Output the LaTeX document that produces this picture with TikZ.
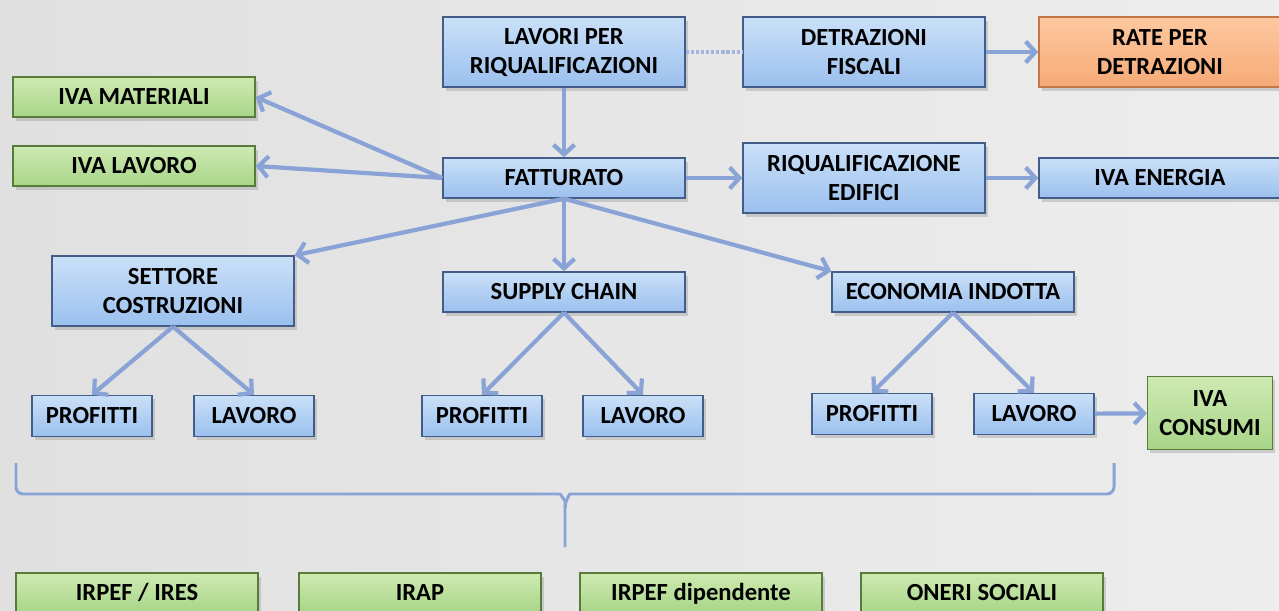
\documentclass[tikz,border=0pt]{standalone}
\usepackage{fontspec}
\setmainfont{Carlito}
\usepackage{tikz}
\usetikzlibrary{shapes.geometric, arrows.meta, shadows, positioning}
\definecolor{dblue}{RGB}{66,94,136}
\definecolor{lblue}{RGB}{202,224,248}
\definecolor{mblue}{RGB}{155,192,238}
\definecolor{dgreen}{RGB}{88,122,58}
\definecolor{lgreen}{RGB}{206,234,178}
\definecolor{mgreen}{RGB}{168,213,136}
\definecolor{dorange}{RGB}{196,118,68}
\definecolor{lorange}{RGB}{253,200,160}
\definecolor{morange}{RGB}{246,170,118}
\definecolor{link}{RGB}{137,163,214}
\definecolor{bgl}{RGB}{224,224,224}
\definecolor{bgr}{RGB}{237,237,237}
\tikzstyle{process} = [rectangle,
minimum width=4.84cm, minimum height=0.8cm,
text centered, align=center, text height=9pt, text depth=0pt,
draw=dblue, line width=0.8pt, top color=lblue, bottom color=mblue,
drop shadow={shadow xshift=1.5pt, shadow yshift=-2pt, opacity=0.3},
font=\fontsize{14}{16.5}\selectfont\bfseries]
\tikzstyle{twoline} = [process, minimum height=1.4cm, text height=, text depth=]
\tikzstyle{smallproc} = [process, minimum width=2.4cm, minimum height=0.82cm]
\tikzstyle{tax} = [process, draw=dgreen, top color=lgreen, bottom color=mgreen]
\tikzstyle{rate} = [twoline, draw=dorange, top color=lorange, bottom color=morange]
\tikzstyle{arrow} = [line width=2.4pt, draw=link, ->, >={Straight Barb[length=5.5pt,width=12pt]}]
\tikzstyle{brace} = [line width=1.7pt, draw=link, rounded corners=4pt]

\begin{document}
\begin{tikzpicture}[x=0.02cm, y=-0.02cm, node distance=6cm]
    \useasboundingbox (0,0) rectangle (1279,611);
    \clip (0,0) rectangle (1279,611);
    \shade[left color=bgl, right color=bgr] (0,0) rectangle (1279,611);

    \node (lav) [twoline] at (564,52) {LAVORI PER\\RIQUALIFICAZIONI};
    \node (detr) [twoline, right of=lav] {DETRAZIONI\\FISCALI};
    \node (rate) [rate, right of=detr, xshift=-0.08cm] {RATE PER\\DETRAZIONI};
    \node (fatt) [process] at (564,178) {FATTURATO};
    \node (riq) [twoline, right of=fatt] {RIQUALIFICAZIONE\\EDIFICI};
    \node (ivaen) [process, right of=riq, xshift=-0.08cm] {IVA ENERGIA};
    \node (ivamat) [tax] at (134,97) {IVA MATERIALI};
    \node (ivalav) [tax] at (134,166) {IVA LAVORO};

    \node (sett) [twoline] at (173,291) {SETTORE\\COSTRUZIONI};
    \node (supply) [process] at (564,292) {SUPPLY CHAIN};
    \node (econ) [process] at (953,292) {ECONOMIA INDOTTA};

    \node (prof1) [smallproc] at (92,416) {PROFITTI};
    \node (lav1) [smallproc] at (254,416) {LAVORO};
    \node (prof2) [smallproc] at (482,416) {PROFITTI};
    \node (lav2) [smallproc] at (643,416) {LAVORO};
    \node (prof3) [smallproc] at (872,414) {PROFITTI};
    \node (lav3) [smallproc] at (1034,414) {LAVORO};
    \node (ivacons) [tax, text height=, text depth=, minimum width=2.5cm, minimum height=1.46cm] at (1210,413) {IVA\\CONSUMI};

    \node (irpef) [tax] at (137,593) {IRPEF / IRES};
    \node (irap) [tax] at (420,593) {IRAP};
    \node (irpefdip) [tax] at (701,593) {IRPEF dipendente};
    \node (oneri) [tax] at (982,593) {ONERI SOCIALI};

    \draw [line width=2.2pt, draw=link!80, dash pattern=on 1.8pt off 1.1pt] (lav) -- (detr);
    \draw [arrow] (detr) -- (rate);
    \draw [arrow] (lav) -- (fatt);
    \draw [arrow] (fatt) -- (riq);
    \draw [arrow] (riq) -- (ivaen);
    \draw [arrow] (fatt.west) -- (ivamat.east);
    \draw [arrow] (fatt.west) -- (ivalav.east);
    \draw [arrow] (fatt.south) -- (sett.north east);
    \draw [arrow] (fatt) -- (supply);
    \draw [arrow] (fatt.south) -- (econ.north west);
    \draw [arrow] (sett.south) -- (prof1.north);
    \draw [arrow] (sett.south) -- (lav1.north);
    \draw [arrow] (supply.south) -- (prof2.north);
    \draw [arrow] (supply.south) -- (lav2.north);
    \draw [arrow] (econ.south) -- (prof3.north);
    \draw [arrow] (econ.south) -- (lav3.north);
    \draw [arrow] (lav3) -- (ivacons);

    % graffa sopra le imposte
    \coordinate (tip) at (565,547);
    \draw [brace] (16,463) -- (16,494) -- (553,494) to[out=0, in=90] (tip |- 0,508) -- (tip);
    \draw [brace] (1114,463) -- (1114,494) -- (577,494) to[out=180, in=90] (tip |- 0,508);
\end{tikzpicture}
\end{document}
